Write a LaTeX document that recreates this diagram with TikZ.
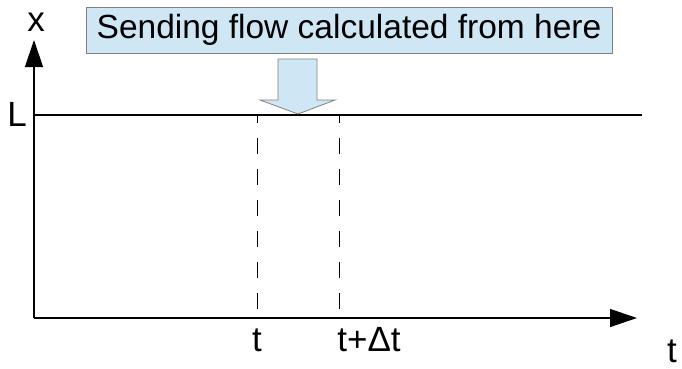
\documentclass[tikz,border=0pt]{standalone}
\usepackage{fontspec}
\setmainfont{Liberation Sans}
\usepackage{tikz}
\usetikzlibrary{arrows.meta,positioning}
\definecolor{skyfill}{HTML}{CFE7F5}
\definecolor{edgegray}{HTML}{808080}
\tikzset{
  axisline/.style={line width=1.3pt, draw=black,
    -{Triangle[length=27pt, width=18pt]}},
  levelline/.style={line width=1.1pt, draw=black},
  timeline/.style={line width=0.9pt, draw=black, dash pattern=on 16pt off 15pt, dash phase=8pt},
  notebox/.style={draw=edgegray, line width=1pt, fill=skyfill, inner sep=0pt,
    minimum width=526pt, minimum height=46pt, font=\fontsize{33.5}{38}\selectfont},
  axislabel/.style={font=\fontsize{35}{40}\selectfont, inner sep=0pt},
  blockarrow/.style={draw=edgegray, line width=0.8pt, fill=skyfill}
}
\begin{document}
\begin{tikzpicture}[x=1pt, y=-1pt]
  \useasboundingbox (0,0) rectangle (682,368);
  % axes
  \coordinate (origin) at (34,318);
  \coordinate (xtop) at (34,40);
  \coordinate (tend) at (637,318);
  \coordinate (lstart) at (34,115);
  \coordinate (lend) at (642,115);
  \coordinate (tlo) at (257,318);
  \coordinate (thi) at (257,115);
  \coordinate (dlo) at (339,318);
  \coordinate (dhi) at (339,115);
  \draw[axisline] (origin) -- (xtop);
  \draw[axisline] (origin) -- (tend);
  \draw[levelline] (lstart) -- (lend);
  \draw[timeline] (thi) -- (tlo);
  \draw[timeline] (dhi) -- (dlo);
  % labels
  \node[axislabel] (xlab) at (36,22) {x};
  \node[axislabel] (llab) at (17,114) {L};
  \node[axislabel] (tlab) at (257,340) {t};
  \node[axislabel] (dtlab) at (369,340) {t+Δt};
  \node[axislabel] (taxis) at (672,351) {t};
  % note with block arrow
  \node[notebox] (note) at (349,30) {Sending flow calculated from here};
  \draw[blockarrow] (278,59) -- (317,59) -- (317,100) -- (335,100)
    -- (298,114) -- (260,100) -- (278,100) -- cycle;
\end{tikzpicture}
\end{document}
